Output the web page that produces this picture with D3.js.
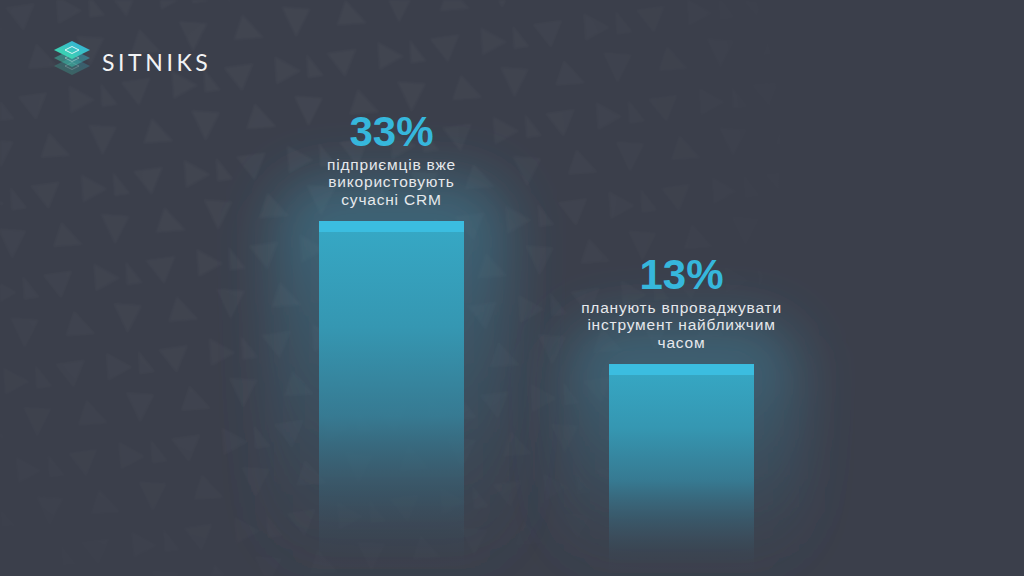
<!DOCTYPE html>
<html>
<head>
<meta charset="utf-8">
<script src="https://cdn.jsdelivr.net/npm/d3@7"></script>
<style>
  html, body { margin: 0; padding: 0; background: #3b3f4b; }
  svg { display: block; }
</style>
</head>
<body>
<script>
// ---- data ----
const categories = ["CRM_now", "CRM_planned"];
const values = [33, 13];
const valueLabels = ["33%", "13%"];
const labelLines = [
  ["підприємців вже", "використовують", "сучасні CRM"],
  ["планують впроваджувати", "інструмент найближчим", "часом"]
];
const brandName = "SITNIKS";

// ---- layout ----
const W = 1024, H = 576;
const svg = d3.select("body").append("svg").attr("width", W).attr("height", H);
const defs = svg.append("defs");

const x = d3.scaleBand().domain(categories).range([246.5, 826.5]).paddingInner(0.5).paddingOuter(0.25);
const y = d3.scaleLinear().domain([0, 33]).range([457, 221]);

// background
svg.append("rect").attr("width", W).attr("height", H).attr("fill", "#3b3f4b");

// triangle pattern (decorative)
const pat = defs.append("pattern").attr("id", "tri").attr("patternUnits", "userSpaceOnUse")
  .attr("width", 104).attr("height", 90).attr("patternTransform", "rotate(-8)");
const tris = [
  "M4,8 L34,8 L19,34 Z",
  "M56,4 L80,22 L54,32 Z",
  "M30,48 L48,74 L18,72 Z",
  "M70,46 L98,52 L80,78 Z",
  "M88,6 L102,30 L86,30 Z"
];
pat.selectAll("path").data(tris).join("path").attr("d", d => d).attr("fill", "#ffffff").attr("fill-opacity", 0.035);

const rg = defs.append("radialGradient").attr("id", "patFade").attr("gradientUnits", "userSpaceOnUse")
  .attr("cx", 300).attr("cy", 150).attr("r", 720);
rg.append("stop").attr("offset", 0).attr("stop-color", "#fff").attr("stop-opacity", 1);
rg.append("stop").attr("offset", 0.4).attr("stop-color", "#fff").attr("stop-opacity", 0.7);
rg.append("stop").attr("offset", 0.75).attr("stop-color", "#fff").attr("stop-opacity", 0);
const m = defs.append("mask").attr("id", "patMask");
m.append("rect").attr("width", W).attr("height", H).attr("fill", "url(#patFade)");
const soft = defs.append("filter").attr("id", "soft");
soft.append("feGaussianBlur").attr("stdDeviation", 1.2);
svg.append("rect").attr("width", W).attr("height", H).attr("fill", "url(#tri)")
  .attr("mask", "url(#patMask)").attr("filter", "url(#soft)");

// bar gradients
const bg = defs.append("linearGradient").attr("id", "barGrad").attr("x1", 0).attr("y1", 0).attr("x2", 0).attr("y2", 1);
bg.append("stop").attr("offset", 0).attr("stop-color", "#36a9c6").attr("stop-opacity", 1);
bg.append("stop").attr("offset", 0.3).attr("stop-color", "#3597b2").attr("stop-opacity", 1);
bg.append("stop").attr("offset", 0.55).attr("stop-color", "#367f98").attr("stop-opacity", 0.9);
bg.append("stop").attr("offset", 0.8).attr("stop-color", "#3a5a6c").attr("stop-opacity", 0.5);
bg.append("stop").attr("offset", 1).attr("stop-color", "#3b3f4b").attr("stop-opacity", 0);

const gg = defs.append("linearGradient").attr("id", "glowGrad").attr("x1", 0).attr("y1", 0).attr("x2", 0).attr("y2", 1);
gg.append("stop").attr("offset", 0).attr("stop-color", "#428ea8").attr("stop-opacity", 0.55);
gg.append("stop").attr("offset", 0.6).attr("stop-color", "#3c6a80").attr("stop-opacity", 0.35);
gg.append("stop").attr("offset", 1).attr("stop-color", "#3b4a58").attr("stop-opacity", 0.1);

const blur = defs.append("filter").attr("id", "blur").attr("x", "-60%").attr("y", "-30%").attr("width", "220%").attr("height", "160%");
blur.append("feGaussianBlur").attr("stdDeviation", 28);

const bars = svg.append("g").selectAll("g").data(values).join("g");

// glow
bars.append("rect")
  .attr("x", (d, i) => x(categories[i]) - 45)
  .attr("y", d => y(d) - 40)
  .attr("width", x.bandwidth() + 90)
  .attr("height", d => H - y(d) + 25)
  .attr("rx", 50)
  .attr("fill", "url(#glowGrad)")
  .attr("filter", "url(#blur)");

// body
bars.append("rect")
  .attr("x", (d, i) => x(categories[i]))
  .attr("y", d => y(d))
  .attr("width", x.bandwidth())
  .attr("height", d => H - y(d))
  .attr("fill", "url(#barGrad)");

// cap
bars.append("rect")
  .attr("x", (d, i) => x(categories[i]))
  .attr("y", d => y(d))
  .attr("width", x.bandwidth())
  .attr("height", 11)
  .attr("fill", "#3bbde0");

// value labels
bars.append("text")
  .attr("x", (d, i) => x(categories[i]) + x.bandwidth() / 2)
  .attr("y", d => y(d) - 75)
  .attr("text-anchor", "middle")
  .attr("font-family", "'Liberation Sans', Arial, sans-serif")
  .attr("font-weight", 700)
  .attr("font-size", 42)
  .attr("fill", "#36b7dc")
  .text((d, i) => valueLabels[i]);

// descriptions
bars.each(function(d, i) {
  const g = d3.select(this);
  const cx = x(categories[i]) + x.bandwidth() / 2;
  g.selectAll("text.desc").data(labelLines[i]).join("text")
    .attr("class", "desc")
    .attr("x", cx)
    .attr("y", (t, j) => y(d) - 51.5 + j * 17.8)
    .attr("text-anchor", "middle")
    .attr("font-family", "'Liberation Sans', Arial, sans-serif")
    .attr("font-size", 15.5)
    .attr("letter-spacing", 0.8)
    .attr("fill", "#e6e8ec")
    .text(t => t);
});

// logo
const logo = svg.append("g").attr("transform", "translate(72,50)");
const lg = defs.append("linearGradient").attr("id", "logoGrad").attr("x1", 0).attr("y1", 1).attr("x2", 1).attr("y2", 0);
lg.append("stop").attr("offset", 0).attr("stop-color", "#3ee0a2");
lg.append("stop").attr("offset", 1).attr("stop-color", "#35a9e0");
const diamond = "M0,-9 L18,0 L0,9 L-18,0 Z";
[[16, 0.25], [8, 0.45], [0, 1]].forEach(([dy, op]) => {
  logo.append("path").attr("d", diamond).attr("transform", `translate(0,${dy})`)
    .attr("fill", "url(#logoGrad)").attr("fill-opacity", op);
  logo.append("path").attr("d", "M0,-3.5 L7,0 L0,3.5 L-7,0 Z").attr("transform", `translate(0,${dy})`)
    .attr("fill", "none").attr("stroke", "#ffffff").attr("stroke-opacity", op * 0.8).attr("stroke-width", 1);
});
svg.append("text")
  .attr("x", 102).attr("y", 71)
  .attr("font-family", "Lato, sans-serif")
  .attr("font-size", 23)
  .attr("letter-spacing", 3.6)
  .attr("fill", "#f2f3f5")
  .text(brandName);
</script>
</body>
</html>
